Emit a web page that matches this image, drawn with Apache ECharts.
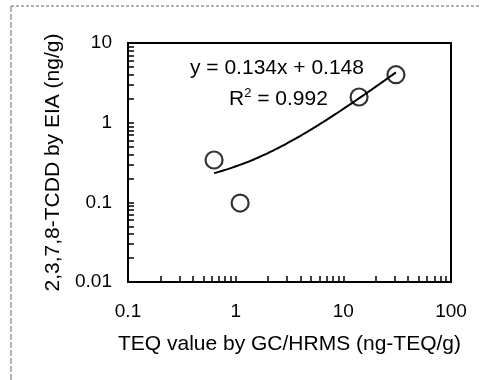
<!DOCTYPE html>
<html>
<head>
<meta charset="utf-8">
<script src="https://cdn.jsdelivr.net/npm/echarts@6/dist/echarts.min.js"></script>
<style>
  html, body { margin: 0; padding: 0; background: #fff; }
  #chart { width: 485px; height: 380px; }
</style>
</head>
<body>
<div id="chart"></div>
<script>
// measured points (GC/HRMS TEQ vs EIA)
const teqValues = [0.63, 1.1, 14.0, 30.8];
const eiaValues = [0.34, 0.098, 2.1, 4.0];

// regression shown on the figure
const slope = 0.134;
const intercept = 0.148;
const rSquared = '0.992';

const xTickLabels = ['0.1', '1', '10', '100'];
const yTickLabels = ['0.01', '0.1', '1', '10'];

// minor tick positions 1..9 per decade
function decadeTicks(from, to) {
  const out = [];
  for (let d = from; d < to; d *= 10) {
    for (let k = 1; k < 10; k++) out.push(+(k * d).toPrecision(3));
  }
  out.push(to);
  return out;
}

// trend line sampled along the fitted range
const fitLine = [];
const xa = Math.log10(teqValues[0]), xb = Math.log10(teqValues[teqValues.length - 1]);
for (let i = 0; i <= 40; i++) {
  const x = Math.pow(10, xa + (xb - xa) * i / 40);
  fitLine.push([x, slope * x + intercept]);
}

const font = '"Liberation Sans", Arial, sans-serif';
const chart = echarts.init(document.getElementById('chart'));

chart.setOption({
  animation: false,
  backgroundColor: '#fff',
  grid: {
    left: 128,
    right: 34,
    top: 43,
    bottom: 98,
    show: true,
    borderColor: '#000',
    borderWidth: 2,
  },
  xAxis: {
    type: 'log',
    logBase: 10,
    min: 0.1,
    max: 100,
    name: 'TEQ value by GC/HRMS (ng-TEQ/g)',
    nameLocation: 'middle',
    nameGap: 52,
    nameTextStyle: { color: '#000', fontSize: 21, fontFamily: font },
    axisLine: { lineStyle: { color: '#000', width: 2 } },
    axisTick: {
      inside: true,
      length: 6,
      lineStyle: { color: '#000', width: 1.5 },
      customValues: decadeTicks(0.1, 100),
    },
    axisLabel: {
      color: '#000',
      fontSize: 19,
      fontFamily: font,
      margin: 20,
      customValues: [0.1, 1, 10, 100],
      formatter: (v) => xTickLabels[Math.round(Math.log10(v)) + 1],
    },
    splitLine: { show: false },
  },
  yAxis: {
    type: 'log',
    logBase: 10,
    min: 0.01,
    max: 10,
    name: '2,3,7,8-TCDD by EIA (ng/g)',
    nameLocation: 'middle',
    nameGap: 64,
    nameTextStyle: { color: '#000', fontSize: 21, fontFamily: font },
    axisLine: { lineStyle: { color: '#000', width: 2 } },
    axisTick: {
      inside: true,
      length: 6,
      lineStyle: { color: '#000', width: 1.5 },
      customValues: decadeTicks(0.01, 10),
    },
    axisLabel: {
      color: '#000',
      fontSize: 19,
      fontFamily: font,
      margin: 16,
      customValues: [0.01, 0.1, 1, 10],
      formatter: (v) => yTickLabels[Math.round(Math.log10(v)) + 2],
    },
    splitLine: { show: false },
  },
  graphic: [
    // scanned page frame
    {
      type: 'line',
      shape: { x1: 11, y1: 6, x2: 480, y2: 6 },
      style: { stroke: '#666', lineWidth: 1, lineDash: [3, 2] },
    },
    {
      type: 'line',
      shape: { x1: 11, y1: 6, x2: 11, y2: 380 },
      style: { stroke: '#666', lineWidth: 1, lineDash: [6, 2] },
    },
    {
      type: 'text',
      left: 190,
      top: 58,
      style: {
        text: 'y = ' + slope + 'x + ' + intercept,
        fill: '#000',
        fontSize: 21,
        fontFamily: font,
      },
    },
    {
      type: 'text',
      left: 229,
      top: 87,
      style: {
        text: '{r|R}{s|2}{r| = ' + rSquared + '}',
        rich: {
          r: { fill: '#000', fontSize: 21, fontFamily: font, lineHeight: 24 },
          s: { fill: '#000', fontSize: 13, fontFamily: font, verticalAlign: 'top', lineHeight: 24, padding: [0, 0, 8, 0] },
        },
      },
    },
  ],
  series: [
    {
      type: 'line',
      data: fitLine,
      showSymbol: false,
      smooth: true,
      lineStyle: { color: '#000', width: 2 },
      z: 2,
    },
    {
      type: 'scatter',
      data: teqValues.map((x, i) => [x, eiaValues[i]]),
      symbol: 'circle',
      symbolSize: 17,
      itemStyle: { color: 'rgba(0,0,0,0)', borderColor: '#000', borderWidth: 2.2 },
      z: 3,
    },
  ],
});
</script>
</body>
</html>
